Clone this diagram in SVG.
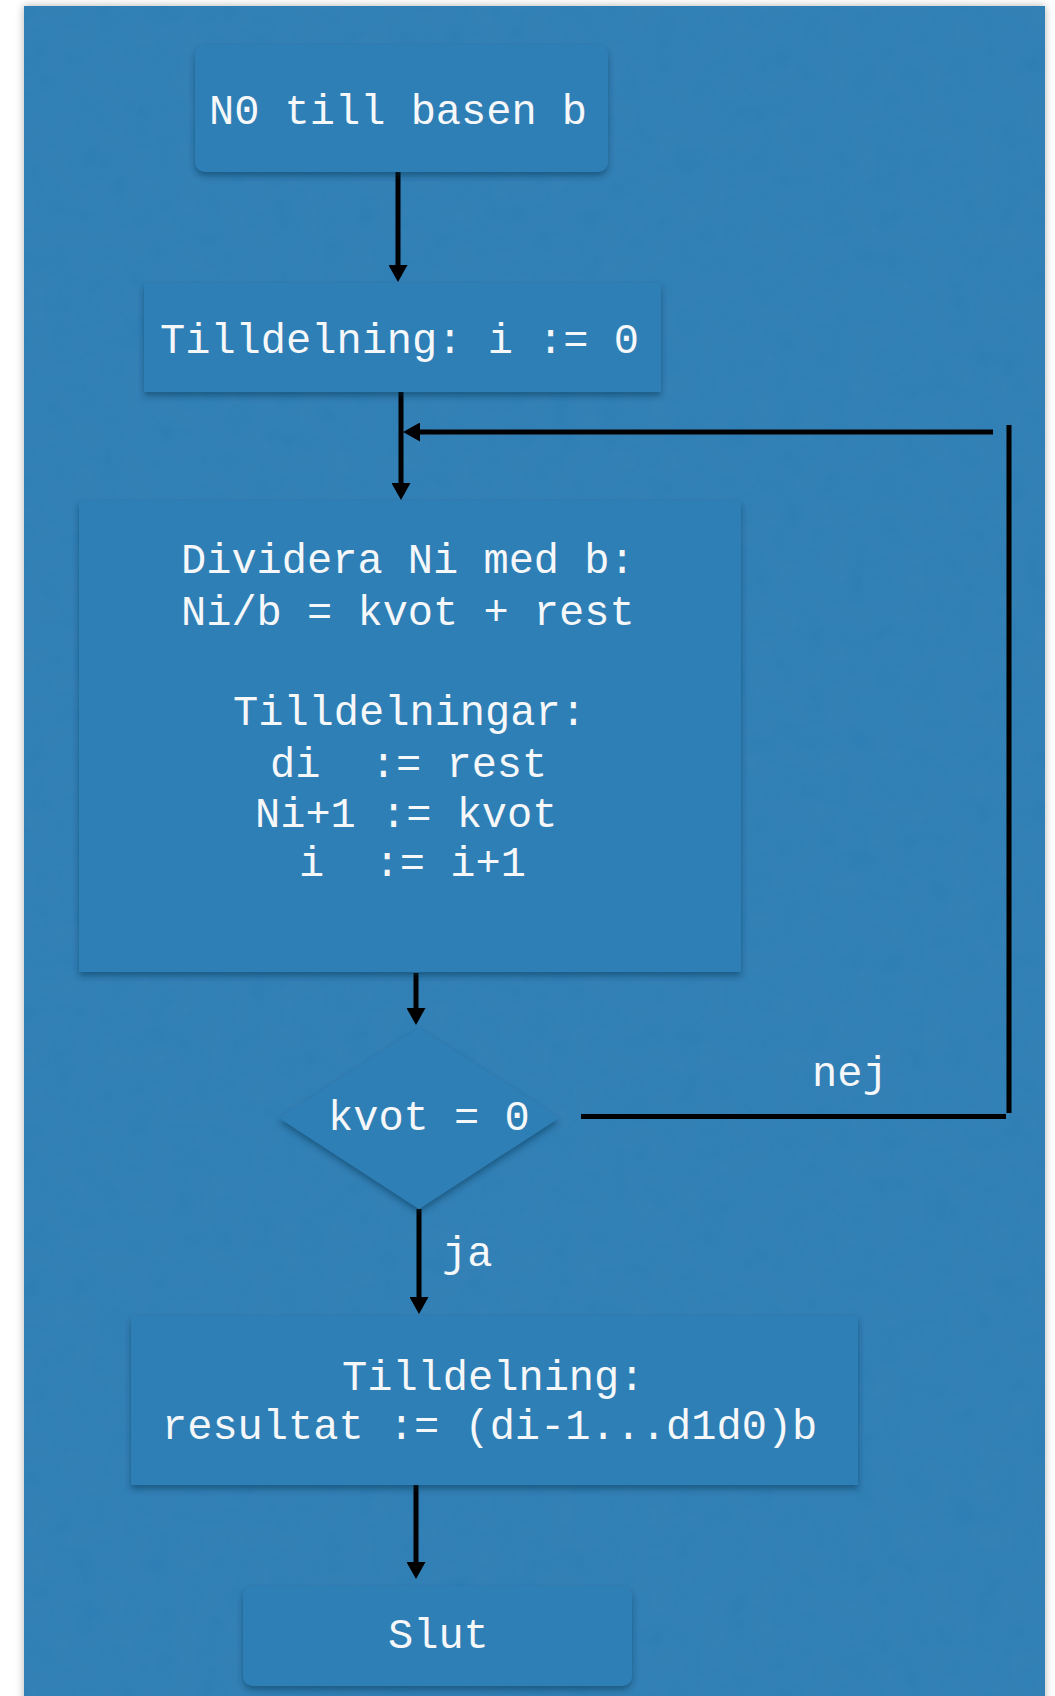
<svg xmlns="http://www.w3.org/2000/svg" width="1055" height="1696" viewBox="0 0 1055 1696">
  <defs>
    <style>
      .node { fill: #2f7fb6; filter: url(#shadow); }
      .lbl { font-family: "Liberation Mono", "Courier New", monospace; font-size: 42px; fill: #f5f7f9; }
      .conn { stroke: #000; stroke-width: 5; fill: none; }
    </style>
    <filter id="shadow" x="-10%" y="-10%" width="120%" height="130%">
      <feDropShadow dx="0" dy="4" stdDeviation="3" flood-color="#0a2a45" flood-opacity="0.45"/>
    </filter>
    <filter id="bgshadow" x="-5%" y="-5%" width="110%" height="110%">
      <feDropShadow dx="0" dy="0" stdDeviation="4" flood-color="#000" flood-opacity="0.3"/>
    </filter>
    <filter id="paper" x="0" y="0" width="100%" height="100%">
      <feTurbulence type="fractalNoise" baseFrequency="0.04" numOctaves="3" seed="4" result="n"/>
      <feColorMatrix in="n" type="matrix" values="0 0 0 0 0.1  0 0 0 0 0.3  0 0 0 0 0.5  0 0 0 0.35 0" result="c"/>
      <feComposite in="c" in2="SourceGraphic" operator="in"/>
    </filter>
    <marker id="arrow" viewBox="0 0 17 19" refX="5" refY="9.5" markerWidth="17" markerHeight="19" orient="auto" markerUnits="userSpaceOnUse">
      <path d="M0 0 L17 9.5 L0 19 Z" fill="#000"/>
    </marker>
  </defs>

  <rect x="0" y="0" width="1055" height="1696" fill="#ffffff"/>
  <g id="background">
    <rect x="24" y="6" width="1021" height="1700" fill="#2e7eb5" filter="url(#bgshadow)"/>
    <rect x="24" y="6" width="1021" height="1690" fill="#2e7eb5" filter="url(#paper)" opacity="0.5"/>
  </g>

  <g id="connectors">
    <line class="conn" x1="398" y1="172" x2="398" y2="270" marker-end="url(#arrow)"/>
    <line class="conn" x1="401" y1="392" x2="401" y2="488" marker-end="url(#arrow)"/>
    <line class="conn" x1="416" y1="973" x2="416" y2="1013" marker-end="url(#arrow)"/>
    <line class="conn" x1="419" y1="1209" x2="419" y2="1302" marker-end="url(#arrow)"/>
    <line class="conn" x1="416" y1="1485" x2="416" y2="1567" marker-end="url(#arrow)"/>
    <path class="conn" d="M581 1116.5 H1006 M1009 1113 V425"/>
    <line class="conn" x1="993" y1="432" x2="415" y2="432" marker-end="url(#arrow)"/>
    <text class="lbl" x="812" y="1086">nej</text>
    <text class="lbl" x="442" y="1266">ja</text>
  </g>

  <g id="start">
    <rect class="node" x="195" y="45" width="413" height="127" rx="10"/>
    <text class="lbl" x="209" y="124">N0 till basen b</text>
  </g>

  <g id="init">
    <rect class="node" x="144" y="283" width="517" height="109"/>
    <text class="lbl" x="160" y="353">Tilldelning: i := 0</text>
  </g>

  <g id="divide">
    <rect class="node" x="79" y="501" width="662" height="471"/>
    <text class="lbl" xml:space="preserve" x="181" y="573">Dividera Ni med b:</text>
    <text class="lbl" xml:space="preserve" x="181" y="625">Ni/b = kvot + rest</text>
    <text class="lbl" xml:space="preserve" x="233" y="725">Tilldelningar:</text>
    <text class="lbl" xml:space="preserve" x="270" y="777">di  := rest</text>
    <text class="lbl" xml:space="preserve" x="255" y="827">Ni+1 := kvot</text>
    <text class="lbl" xml:space="preserve" x="299" y="876">i  := i+1</text>
  </g>

  <g id="decision">
    <polygon class="node" points="419,1028 559,1118 419,1209 279,1118"/>
    <text class="lbl" x="328" y="1130">kvot = 0</text>
  </g>

  <g id="result">
    <rect class="node" x="131" y="1316" width="727" height="169"/>
    <text class="lbl" x="342" y="1390">Tilldelning:</text>
    <text class="lbl" x="162" y="1439">resultat := (di-1...d1d0)b</text>
  </g>

  <g id="end">
    <rect class="node" x="243" y="1586" width="389" height="100" rx="10"/>
    <text class="lbl" x="388" y="1648">Slut</text>
  </g>
</svg>
